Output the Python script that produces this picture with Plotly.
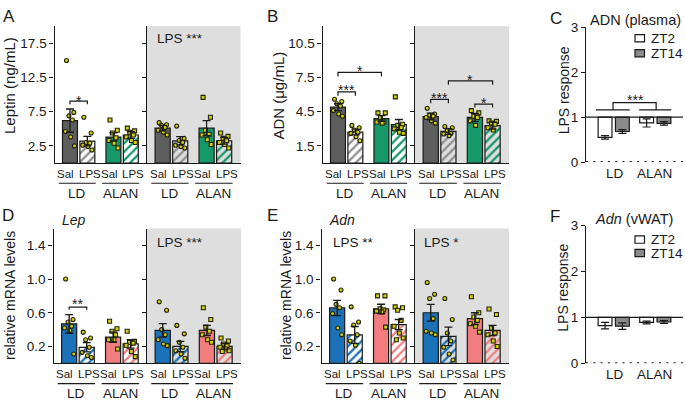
import plotly.graph_objects as go

W, H = 685, 406
FONT = "Liberation Sans, Arial, Helvetica, sans-serif"
TXT = "#1a1a1a"
LINE = "#1a1a1a"
GREY_BG = "#dedede"
DOT = "#cfcf10"
DOT_EDGE = "#222208"

# ---------------- data ----------------
bar_labels = ["Sal", "LPS", "Sal", "LPS"]
light_labels = ["LD", "ALAN"]

# A  Leptin (ng/mL)  -- white (left) and grey (right) halves
lep_w_mean = [6.2, 3.2, 3.8, 4.1]
lep_w_sem = [1.7, 0.7, 0.6, 0.5]
lep_w_pts = [
    [15.0, 7.4, 6.9, 6.3, 4.6, 3.8, 2.5],
    [6.7, 4.4, 3.0, 2.9, 2.6, 2.4, 1.9],
    [6.3, 4.8, 4.4, 3.7, 3.3, 2.9, 2.2],
    [5.1, 4.7, 4.5, 4.1, 3.8, 3.3, 3.0],
]
lep_g_mean = [5.1, 3.25, 5.1, 3.25]
lep_g_sem = [0.4, 0.6, 1.1, 0.5]
lep_g_pts = [
    [5.9, 5.6, 5.5, 5.2, 4.8, 4.5, 4.1],
    [5.4, 3.6, 3.3, 3.0, 2.6, 2.4, 2.2],
    [9.6, 6.7, 4.8, 4.2, 4.1, 3.4, 2.7],
    [4.4, 3.9, 3.6, 3.25, 3.0, 2.7, 2.2],
]

# B  ADN (ug/mL)
adn_w_mean = [4.9, 2.72, 3.9, 3.37]
adn_w_sem = [0.3, 0.25, 0.25, 0.45]
adn_w_pts = [
    [5.6, 5.4, 5.2, 5.0, 4.6, 4.3, 4.1],
    [3.3, 3.1, 2.9, 2.7, 2.6, 2.3, 1.95],
    [4.4, 4.4, 4.0, 3.6, 3.6, 3.5],
    [5.8, 3.4, 3.3, 3.1, 3.0, 2.7, 2.6],
]
adn_g_mean = [4.08, 2.77, 4.0, 3.28]
adn_g_sem = [0.3, 0.25, 0.35, 0.3]
adn_g_pts = [
    [4.8, 4.3, 4.2, 4.1, 4.0, 3.7, 3.5],
    [3.2, 3.1, 2.86, 2.6, 2.55, 2.4],
    [4.6, 4.4, 4.1, 4.0, 3.7, 3.3],
    [3.7, 3.65, 3.5, 3.4, 3.1, 2.9],
]

# D  Lep relative mRNA
lepm_w_mean = [0.467, 0.19, 0.31, 0.23]
lepm_w_sem = [0.11, 0.055, 0.06, 0.05]
lepm_w_pts = [
    [1.0, 0.52, 0.49, 0.44, 0.42, 0.39, 0.11],
    [0.37, 0.30, 0.28, 0.19, 0.13, 0.09, 0.07],
    [0.50, 0.41, 0.38, 0.34, 0.28, 0.28, 0.17],
    [0.38, 0.26, 0.25, 0.24, 0.215, 0.14, 0.08],
]
lepm_g_mean = [0.39, 0.20, 0.39, 0.20]
lepm_g_sem = [0.08, 0.06, 0.06, 0.035]
lepm_g_pts = [
    [0.73, 0.63, 0.40, 0.34, 0.28, 0.23, 0.21],
    [0.45, 0.35, 0.25, 0.19, 0.15, 0.11, 0.06],
    [0.66, 0.52, 0.43, 0.38, 0.34, 0.28, 0.25],
    [0.30, 0.265, 0.23, 0.21, 0.19, 0.17, 0.15, 0.14],
]

# E  Adn relative mRNA
adnm_w_mean = [0.657, 0.337, 0.646, 0.46]
adnm_w_sem = [0.09, 0.10, 0.055, 0.06]
adnm_w_pts = [
    [1.0, 0.87, 0.70, 0.66, 0.59, 0.42, 0.34],
    [0.67, 0.49, 0.455, 0.34, 0.265, 0.215, 0.0],
    [0.80, 0.80, 0.646, 0.634, 0.62, 0.61, 0.43],
    [0.67, 0.66, 0.63, 0.51, 0.44, 0.36, 0.30, 0.28],
]
adnm_g_mean = [0.60, 0.32, 0.53, 0.39]
adnm_g_sem = [0.10, 0.11, 0.07, 0.06]
adnm_g_pts = [
    [0.96, 0.82, 0.77, 0.53, 0.38, 0.36, 0.34],
    [0.77, 0.52, 0.36, 0.265, 0.19, 0.11, 0.04],
    [0.79, 0.60, 0.55, 0.51, 0.47, 0.44, 0.37],
    [0.645, 0.58, 0.42, 0.36, 0.34, 0.265, 0.20],
]

# C / F  LPS response (ZT2, ZT14) for LD, ALAN
c_zt2 = [0.55, 0.87]
c_zt2_sem = [0.04, 0.09]
c_zt14 = [0.68, 0.86]
c_zt14_sem = [0.04, 0.04]
f_zt2 = [0.82, 0.89]
f_zt2_sem = [0.07, 0.03]
f_zt14 = [0.81, 0.90]
f_zt14_sem = [0.07, 0.03]

# ---------------- layout helpers ----------------
POS = [0.0, 1.0, 2.5, 3.5]
JIT = [-0.2, 0.22, -0.06, 0.14, -0.26, 0.04, 0.26, -0.13]
XR = [-0.89, 4.43]
CPOS_ZT2 = [0.0, 2.4]
CPOS_ZT14 = [1.0, 3.4]
CXR = [-1.1, 4.5]


def fx(p):
    return p / W


def fy(p):
    return 1 - p / H


def axkey(n, letter):
    return f"{letter}axis" if n == 1 else f"{letter}axis{n}"


def ref(n, letter):
    return letter if n == 1 else f"{letter}{n}"


layout = dict(
    width=W, height=H, autosize=False,
    margin=dict(l=0, r=0, t=0, b=0),
    paper_bgcolor="white", plot_bgcolor="rgba(0,0,0,0)",
    showlegend=False, barmode="overlay", hovermode=False,
    font=dict(family=FONT, size=13, color=TXT),
)
shapes = []
annots = []
traces = []


def text(x, y, s, size=13, xref="paper", yref="paper", xanchor="center",
         yanchor="middle", angle=0, yshift=0):
    annots.append(dict(x=x, y=y, xref=xref, yref=yref, text=s, showarrow=False,
                       font=dict(size=size, color=TXT, family=FONT),
                       xanchor=xanchor, yanchor=yanchor, textangle=angle,
                       yshift=yshift))


def add_half(n, x0, x1, top, bot, yr, ytv, labels, grey, means, sems, pts,
             cols, hatch_bg, row_y):
    xr_, yr_ = ref(n, "x"), ref(n, "y")
    layout[axkey(n, "x")] = dict(
        domain=[fx(x0), fx(x1)], range=XR, anchor=yr_, showline=True,
        linecolor=LINE, linewidth=1.3, ticks="", showticklabels=False,
        showgrid=False, zeroline=False, fixedrange=True)
    layout[axkey(n, "y")] = dict(
        domain=[fy(bot), fy(top)], range=yr, anchor=xr_, showline=True,
        linecolor=LINE, linewidth=1.3, ticks="outside", ticklen=4,
        tickwidth=1.3, tickcolor=LINE, tickvals=ytv,
        ticktext=[str(v) for v in ytv], showticklabels=labels,
        tickfont=dict(size=13.5, color=TXT), showgrid=False, zeroline=False,
        fixedrange=True)
    if grey:
        shapes.append(dict(type="rect", xref=f"{xr_} domain", yref=f"{yr_} domain",
                           x0=0, x1=1, y0=0, y1=1, fillcolor=GREY_BG,
                           line=dict(width=0), layer="below"))
    traces.append(go.Bar(
        x=POS, y=means, width=0.86, xaxis=xr_, yaxis=yr_,
        marker=dict(color=cols, line=dict(color=LINE, width=1.2),
                    pattern=dict(shape=["", "/", "", "/"], fgcolor="white",
                                 bgcolor=hatch_bg, size=6, solidity=0.38,
                                 fillmode="replace"))))
    for i, vals in enumerate(pts):
        traces.append(go.Scatter(
            x=[POS[i] + JIT[k] for k in range(len(vals))], y=vals,
            mode="markers", xaxis=xr_, yaxis=yr_,
            marker=dict(symbol="circle" if i < 2 else "square", size=4,
                        color=DOT, line=dict(color=DOT_EDGE, width=1.1))))
    traces.append(go.Scatter(
        x=POS, y=means, mode="markers", xaxis=xr_, yaxis=yr_,
        marker=dict(size=2, color="rgba(0,0,0,0)"),
        error_y=dict(type="data", array=sems, color=LINE, thickness=1.3, width=4)))
    # category labels under the axis
    r1, r2, r3 = row_y
    for j in range(2):
        p0, p1 = POS[2 * j], POS[2 * j + 1]
        text(p0 + 0.36, fy(r1), bar_labels[2 * j], size=11.5, xref=xr_,
             xanchor="right")
        text(p1 - 0.6, fy(r1), bar_labels[2 * j + 1], size=11.5, xref=xr_,
             xanchor="left")
        shapes.append(dict(type="line", xref=xr_, yref="paper",
                           x0=p0 - 0.65, x1=p1 + 0.48, y0=fy(r2), y1=fy(r2),
                           line=dict(color=LINE, width=1.2)))
        text(p0 + 0.4, fy(r3), light_labels[j], size=13.5, xref=xr_)


def bracket(n, xa, xb, ytop, ydrop, label, ystar, size=14):
    xr_, yr_ = ref(n, "x"), ref(n, "y")
    shapes.append(dict(type="path", xref=xr_, yref=yr_,
                       path=f"M {xa},{ydrop} L {xa},{ytop} L {xb},{ytop} L {xb},{ydrop}",
                       line=dict(color=LINE, width=1.2)))
    text((xa + xb) / 2, ystar, label, size=size, xref=xr_, yref=yr_, yshift=-4)


def add_response(n, x0, x1, top, bot, zt2, zt2_sem, zt14, zt14_sem, row_y):
    xr_, yr_ = ref(n, "x"), ref(n, "y")
    layout[axkey(n, "x")] = dict(
        domain=[fx(x0), fx(x1)], range=CXR, anchor=yr_, showline=False,
        ticks="", showticklabels=False, showgrid=False, zeroline=False,
        fixedrange=True)
    layout[axkey(n, "y")] = dict(
        domain=[fy(bot), fy(top)], range=[0, 3], anchor=xr_, showline=True,
        linecolor=LINE, linewidth=1.3, ticks="outside", ticklen=4,
        tickwidth=1.3, tickcolor=LINE, tickvals=[0, 1, 2, 3],
        tickfont=dict(size=13.5, color=TXT), showgrid=False, zeroline=False,
        fixedrange=True)
    for pos, vals, sems, col in [(CPOS_ZT2, zt2, zt2_sem, "white"),
                                 (CPOS_ZT14, zt14, zt14_sem, "#8a8a8a")]:
        traces.append(go.Bar(x=pos, y=[v - 1 for v in vals], base=1, width=0.8,
                             xaxis=xr_, yaxis=yr_,
                             marker=dict(color=col, line=dict(color=LINE, width=1.2))))
        traces.append(go.Scatter(
            x=pos, y=vals, mode="markers", xaxis=xr_, yaxis=yr_,
            marker=dict(size=2, color="rgba(0,0,0,0)"),
            error_y=dict(type="data", array=sems, color=LINE, thickness=1.2, width=4)))
    shapes.append(dict(type="line", xref=f"{xr_} domain", yref=yr_, x0=0, x1=1,
                       y0=1, y1=1, line=dict(color=LINE, width=1.3)))
    shapes.append(dict(type="line", xref=f"{xr_} domain", yref=yr_, x0=0, x1=1,
                       y0=0, y1=0, line=dict(color=LINE, width=2, dash="2px,5.3px")))
    text(0.6, fy(row_y), light_labels[0], size=13.5, xref=xr_)
    text(2.85, fy(row_y), light_labels[1], size=13.5, xref=xr_)


def legend_box(y_zt2, y_zt14):
    for yy, col, lab in [(y_zt2, "white", "ZT2"), (y_zt14, "#8a8a8a", "ZT14")]:
        shapes.append(dict(type="rect", xref="paper", yref="paper",
                           x0=fx(635), x1=fx(644.5), y0=fy(yy + 3.8), y1=fy(yy - 3.8),
                           fillcolor=col, line=dict(color=LINE, width=1.2)))
        text(fx(649), fy(yy), lab, size=13.5, xanchor="left")


# ---------------- panels ----------------
ROW1 = (173, 183, 193.5)
ROW2 = (381.5, 391, 401)
GRAY_C = ["#5e5e5e", "#909090", "#17986a", "#17986a"]
BLUE_C = ["#1c72b8", "#1c72b8", "#f27d7e", "#f27d7e"]

# A
add_half(1, 54.5, 147, 20, 162, [0, 20], [2.5, 7.5, 12.5, 17.5], True, False,
         lep_w_mean, lep_w_sem, lep_w_pts, GRAY_C, GRAY_C, ROW1)
add_half(2, 147, 240.5, 20, 162, [0, 20], [2.5, 7.5, 12.5, 17.5], False, True,
         lep_g_mean, lep_g_sem, lep_g_pts, GRAY_C, GRAY_C, ROW1)
# B
add_half(3, 322.5, 415, 20, 162, [0, 12], [1.5, 4.5, 7.5, 10.5], True, False,
         adn_w_mean, adn_w_sem, adn_w_pts, GRAY_C, GRAY_C, ROW1)
add_half(4, 415, 509, 20, 162, [0, 12], [1.5, 4.5, 7.5, 10.5], False, True,
         adn_g_mean, adn_g_sem, adn_g_pts, GRAY_C, GRAY_C, ROW1)
# C
add_response(5, 586, 683, 21, 161, c_zt2, c_zt2_sem, c_zt14, c_zt14_sem, 173)
# D
add_half(6, 53.5, 147, 230, 370, [0, 1.6], [0.2, 0.6, 1.0, 1.4], True, False,
         lepm_w_mean, lepm_w_sem, lepm_w_pts, BLUE_C, BLUE_C, ROW2)
add_half(7, 147, 241, 230, 370, [0, 1.6], [0.2, 0.6, 1.0, 1.4], False, True,
         lepm_g_mean, lepm_g_sem, lepm_g_pts, BLUE_C, BLUE_C, ROW2)
# E
add_half(8, 321.5, 415, 230, 370, [0, 1.6], [0.2, 0.6, 1.0, 1.4], True, False,
         adnm_w_mean, adnm_w_sem, adnm_w_pts, BLUE_C, BLUE_C, ROW2)
add_half(9, 415, 509, 230, 370, [0, 1.6], [0.2, 0.6, 1.0, 1.4], False, True,
         adnm_g_mean, adnm_g_sem, adnm_g_pts, BLUE_C, BLUE_C, ROW2)
# F
add_response(10, 586, 683, 227, 370, f_zt2, f_zt2_sem, f_zt14, f_zt14_sem, 382)

# significance brackets
bracket(1, 0, 1, 9.06, 8.6, "*", 9.7)
bracket(3, 0, 2.5, 7.95, 7.6, "*", 8.45)
bracket(3, 0, 1, 6.25, 5.9, "***", 6.75)
bracket(4, 0, 1, 5.58, 5.24, "***", 6.1)
bracket(4, 1, 3.5, 7.2, 6.87, "*", 7.63)
bracket(4, 2.5, 3.5, 5.16, 4.88, "*", 5.66)
bracket(6, 0, 1, 0.667, 0.636, "**", 0.75)

# C significance (LD vs ALAN)
for xa, xb in [(-0.52, 1.42), (1.97, 3.82)]:
    shapes.append(dict(type="line", xref="x5", yref="y5", x0=xa, x1=xb,
                       y0=1.16, y1=1.16, line=dict(color=LINE, width=1.2)))
shapes.append(dict(type="path", xref="x5", yref="y5",
                   path="M 0.46,1.16 L 0.46,1.32 L 2.95,1.32 L 2.95,1.16",
                   line=dict(color=LINE, width=1.2)))
text(1.75, 1.47, "***", size=14, xref="x5", yref="y5", yshift=-4)

# main effect labels
text(fx(155), fy(33), "LPS ***", size=13.5, xanchor="left")
text(fx(155), fy(244.5), "LPS ***", size=13.5, xanchor="left")
text(fx(331), fy(244.5), "LPS **", size=13.5, xanchor="left")
text(fx(422), fy(244.5), "LPS *", size=13.5, xanchor="left")

# axis titles
text(fx(10), fy(82), "Leptin (ng/mL)", size=15, angle=-90)
text(fx(279), fy(92), "ADN (\u03bcg/mL)", size=15, angle=-90)
text(fx(563.5), fy(87), "LPS response", size=14, angle=-90)
text(fx(10), fy(300), "relative mRNA levels", size=14, angle=-90)
text(fx(286), fy(300), "relative mRNA levels", size=14, angle=-90)
text(fx(563.5), fy(292), "LPS response", size=14, angle=-90)

# panel titles
text(fx(588), fy(13), "ADN (plasma)", size=14.5, xanchor="left")
text(fx(593), fy(220), "<i>Adn</i> (vWAT)", size=14.5, xanchor="left")
text(fx(60), fy(221), "<i>Lep</i>", size=14, xanchor="left")
text(fx(327), fy(221), "<i>Adn</i>", size=14, xanchor="left")

# legends
legend_box(32.5, 48)
legend_box(241.5, 255.5)

# panel letters
for lab, x, y in [("A", 9, 10), ("B", 272.5, 10), ("C", 556, 12),
                  ("D", 8, 217), ("E", 272.5, 217), ("F", 555, 218)]:
    text(fx(x), fy(y), lab, size=17)

layout["shapes"] = shapes
layout["annotations"] = annots
fig = go.Figure(data=traces, layout=layout)
fig.write_html("out.html")
